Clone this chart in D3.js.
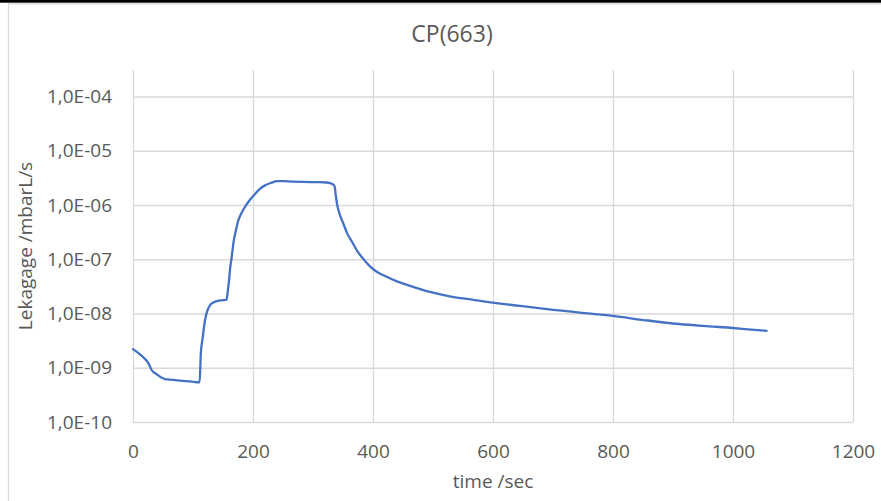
<!DOCTYPE html>
<html>
<head>
<meta charset="utf-8">
<script src="https://cdn.jsdelivr.net/npm/d3@7"></script>
<style>
  body { margin: 0; background: #fff; }
  text { font-family: "Open Sans", sans-serif; fill: #595959; }
</style>
</head>
<body>
<script>
const W = 881, H = 501;

// time /sec
const times = [0, 8, 20, 26, 31, 40, 53, 65, 78, 95, 111, 113, 116, 120, 123, 128, 134, 142, 150, 156,
  158, 160, 162, 164, 166, 168, 171, 175, 180, 186, 195, 200, 212, 220, 230, 240, 250, 265, 280, 295,
  310, 323, 333, 336, 338, 340, 345, 350, 357, 365, 375, 385, 395, 405, 420, 440, 465, 495, 530, 565,
  600, 645, 690, 745, 800, 855, 910, 960, 1000, 1030, 1056];
// Lekagage /mbarL/s
const leak = [2.2e-9, 1.9e-9, 1.45e-9, 1.2e-9, 9.1e-10, 7.5e-10, 6.2e-10, 6.0e-10, 5.8e-10, 5.6e-10, 5.4e-10, 1.8e-9, 3.5e-9, 7.5e-9, 1.05e-8, 1.4e-8, 1.6e-8, 1.72e-8, 1.76e-8, 1.8e-8,
  2.6e-8, 4e-8, 7e-8, 1.0e-7, 1.5e-7, 2.2e-7, 3.2e-7, 5e-7, 6.8e-7, 9e-7, 1.25e-6, 1.45e-6, 2.0e-6, 2.3e-6, 2.55e-6, 2.75e-6, 2.75e-6, 2.7e-6, 2.67e-6, 2.65e-6,
  2.65e-6, 2.6e-6, 2.42e-6, 2.2e-6, 1.5e-6, 1.05e-6, 6.5e-7, 4.7e-7, 3.0e-7, 2.1e-7, 1.35e-7, 9.8e-8, 7.4e-8, 6.0e-8, 4.9e-8, 3.9e-8, 3.15e-8, 2.5e-8, 2.05e-8, 1.8e-8,
  1.58e-8, 1.38e-8, 1.2e-8, 1.04e-8, 9.0e-9, 7.5e-9, 6.4e-9, 5.8e-9, 5.4e-9, 5.05e-9, 4.8e-9];

const xTicks = [0, 200, 400, 600, 800, 1000, 1200];
const yTicks = [1e-10, 1e-9, 1e-8, 1e-7, 1e-6, 1e-5, 1e-4];
const yTickLabels = ['1,0E-10', '1,0E-09', '1,0E-08', '1,0E-07', '1,0E-06', '1,0E-05', '1,0E-04'];

const plotL = 133, plotR = 853, plotT = 70, plotB = 422;

const svg = d3.select('body').append('svg').attr('width', W).attr('height', H);

// chart frame
svg.append('rect').attr('x', 0).attr('y', 0).attr('width', W).attr('height', 2.7).attr('fill', '#000');
svg.append('path')
  .attr('d', `M8.5,${H}V3.8H${W}`)
  .attr('fill', 'none')
  .attr('stroke', '#d9d9d9')
  .attr('stroke-width', 1.2);

const x = d3.scaleLinear().domain([0, 1200]).range([plotL, plotR]);
const y = d3.scaleLog().domain([1e-10, 1e-4]).range([plotB, 96.5]);

// vertical gridlines + x labels
const gx = svg.append('g')
  .attr('transform', `translate(0,${plotB})`)
  .call(d3.axisBottom(x).tickValues(xTicks).tickSize(-(plotB - plotT)).tickFormat(d3.format('d')));
gx.select('.domain').remove();
gx.selectAll('line').attr('stroke', '#d9d9d9').attr('stroke-width', 1.3);
gx.selectAll('text').attr('y', 36).attr('dy', 0).attr('font-size', 19).attr('font-family', '"Open Sans", sans-serif').style('fill', '#595959');

// horizontal gridlines + y labels
const gy = svg.append('g')
  .attr('transform', `translate(${plotL},0)`)
  .call(d3.axisLeft(y).tickValues(yTicks).tickSize(-(plotR - plotL)).tickPadding(21)
    .tickFormat((d, i) => yTickLabels[i]));
gy.select('.domain').remove();
gy.selectAll('line').attr('stroke', '#d9d9d9').attr('stroke-width', 1.3);
gy.selectAll('text').attr('font-size', 19).attr('font-family', '"Open Sans", sans-serif').style('fill', '#595959');

// series
const pts = times.map((t, i) => [t, leak[i]]);
const line = d3.line()
  .x(d => x(d[0]))
  .y(d => y(d[1]))
  .curve(d3.curveMonotoneX);

svg.append('path')
  .attr('d', line(pts))
  .attr('fill', 'none')
  .attr('stroke', '#4472C4')
  .attr('stroke-width', 2.3)
  .attr('stroke-linejoin', 'round')
  .attr('stroke-linecap', 'round');

// titles
svg.append('text')
  .attr('x', 452).attr('y', 42)
  .attr('text-anchor', 'middle')
  .attr('font-size', 23)
  .text('CP(663)');

svg.append('text')
  .attr('x', (plotL + plotR) / 2).attr('y', 488)
  .attr('text-anchor', 'middle')
  .attr('font-size', 19)
  .text('time /sec');

svg.append('text')
  .attr('transform', `translate(32,${(plotT + plotB) / 2}) rotate(-90)`)
  .attr('text-anchor', 'middle')
  .attr('font-size', 19)
  .text('Lekagage /mbarL/s');
</script>
</body>
</html>
